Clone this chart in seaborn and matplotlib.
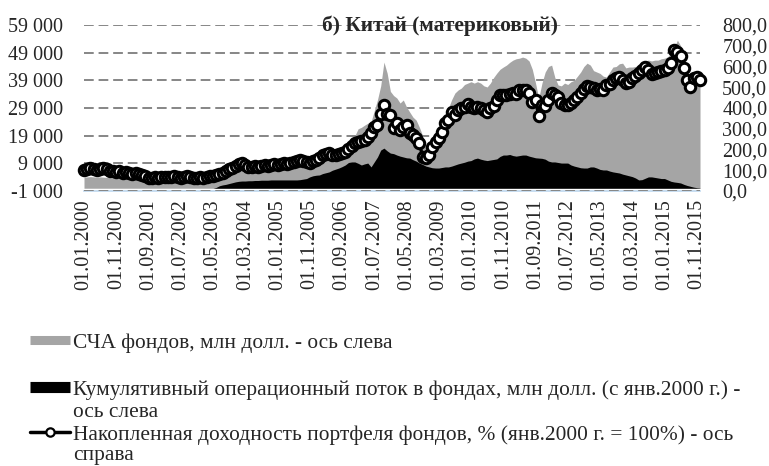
import numpy as np
import pandas as pd
import matplotlib
matplotlib.use("Agg")
import matplotlib.pyplot as plt
from matplotlib.lines import Line2D
from matplotlib.ticker import FuncFormatter
import seaborn as sns

# Monthly observations, Jan 2000 - Dec 2015
months = pd.date_range("2000-01-01", periods=192, freq="MS")

# Net asset value of funds, USD mn (left axis)
nav = [
    4000, 4100, 4200, 4100, 4000, 4100, 4000, 3900, 3800, 3700,
    3600, 3500, 3500, 3400, 3300, 3300, 3200, 3100, 3000, 3000,
    2900, 2800, 2900, 2800, 2900, 3000, 2900, 2900, 3000, 2900,
    2800, 2900, 3000, 2900, 2800, 2800, 2900, 2900, 3000, 3100,
    3200, 3500, 4000, 4600, 5200, 5900, 6200, 6600, 7000, 7200,
    7000, 7100, 7200, 7300, 7300, 7400, 7300, 7400, 7500, 7600,
    7600, 7700, 7800, 8000, 8200, 8400, 8300, 8000, 7800, 7700,
    7700, 8000, 8400, 9000, 9500, 9800, 10200, 10500, 11000, 11500,
    12000, 12500, 13800, 16000, 19000, 21500, 22000, 22800, 23500, 24000,
    28000, 32000, 37000, 45600, 41600, 35000, 33500, 32600, 30800, 31900,
    29400, 27500, 25700, 24600, 22000, 19000, 14500, 12500, 12000, 15000,
    18000, 22000, 25700, 29000, 32000, 34400, 35500, 36200, 37500, 38000,
    38500, 38000, 38500, 38000, 37000, 36600, 38000, 40000, 41600, 43000,
    43800, 44500, 45500, 46300, 46800, 47000, 47400, 47000, 46000, 43000,
    38000, 32500, 38000, 42000, 44000, 44500, 40000, 37300, 37000, 38000,
    37500, 38500, 39000, 40500, 42000, 44000, 45200, 44500, 42500, 42000,
    41500, 40500, 40200, 42000, 43800, 44000, 45000, 45200, 43500, 43800,
    43800, 44000, 44500, 45000, 46000, 46300, 46000, 46300, 46300, 46800,
    47000, 47500, 48900, 51000, 53500, 51500, 47000, 41000, 38500, 39000,
    39500, 38000,
]

# Cumulative net flow into funds since Jan 2000, USD mn (left axis)
flow = [0] * 41 + [
    300, 900, 1200, 1400, 1700, 2000, 2300, 2500, 2600, 2600,
    2700, 2700, 2800, 2800, 2900, 2900, 2900, 3000, 3000, 3000,
    3000, 3000, 3000, 3000, 3000, 3000, 3100, 3300, 3500, 4100,
    4500, 4700, 4800, 5300, 5600, 5900, 6500, 6900, 7300, 7800,
    8400, 9300, 9500, 9500, 9000, 8400, 8800, 9100, 7700, 9500,
    11300, 13800, 14500, 13500, 12700, 12500, 12000, 11600, 11300, 11000,
    10900, 10300, 9800, 9100, 8600, 8000, 7700, 7400, 7300, 7300,
    7500, 7700, 7700, 8000, 8400, 8800, 9100, 9400, 9800, 10000,
    10600, 10900, 10500, 10200, 10000, 10200, 10400, 10600, 11500, 12000,
    12000, 12200, 11800, 11600, 11800, 12000, 12000, 11600, 11300, 11000,
    10900, 10800, 10500, 9800, 9500, 9500, 9300, 9100, 9100, 9100,
    8400, 8000, 7700, 7400, 7300, 7300, 7700, 7700, 7300, 6800,
    6600, 6600, 6200, 5900, 5700, 5500, 5100, 4800, 4500, 4200,
    3700, 3000, 3100, 3600, 4100, 4100, 3900, 3700, 3500, 3500,
    3000, 2500, 2250, 2100, 1900, 1400, 1000, 700, 400, 200, 100,
]

# Cumulative portfolio return, % (Jan 2000 = 100), right axis
ret = [
    100, 106, 113, 108, 103, 108, 112, 104, 98, 94,
    90, 94, 88, 92, 86, 84, 88, 82, 78, 74,
    64, 62, 66, 64, 67, 69, 66, 68, 70, 67,
    65, 68, 70, 68, 65, 63, 66, 64, 67, 70,
    72, 76, 82, 88, 95, 104, 112, 122, 132, 136,
    124, 114, 116, 120, 118, 122, 125, 120, 124, 128,
    126, 131, 136, 132, 135, 140, 145, 149, 145, 140,
    135, 145, 149, 159, 174, 178, 183, 174, 174, 178,
    183, 188, 202, 217, 231, 236, 241, 246, 260, 280,
    308, 318, 371, 415, 371, 366, 304, 328, 294, 308,
    318, 280, 270, 255, 231, 164, 159, 174, 212, 236,
    255, 284, 328, 342, 381, 366, 390, 400, 405, 419,
    405, 400, 405, 400, 390, 381, 400, 410, 439, 463,
    463, 463, 468, 472, 468, 487, 487, 487, 472, 429,
    439, 362, 415, 410, 439, 472, 463, 453, 424, 415,
    415, 424, 439, 453, 472, 492, 506, 501, 496, 487,
    492, 487, 511, 516, 535, 545, 549, 535, 521, 525,
    545, 554, 569, 583, 598, 583, 564, 569, 574, 578,
    583, 593, 617, 680, 670, 651, 593, 535, 501, 545,
    549, 535,
]

tick_step = 10
tick_labels = [d.strftime("%d.%m.%Y") for d in months[::tick_step]]

title = "б) Китай (материковый)"
# Legend labels: first line next to the key, wrapped remainder below it
label_nav = ("СЧА фондов, млн долл. - ось слева", None)
label_flow = ("Кумулятивный операционный поток в фондах, млн долл. (с янв.2000 г.) -", "ось слева")
label_ret = ("Накопленная доходность портфеля фондов, % (янв.2000 г. = 100%) - ось", "справа")

sns.set_theme(style="white")
plt.rcParams["font.family"] = ["Liberation Serif", "DejaVu Serif"]
FS = 14.5
FS_LEG = 15.4

W, H = 769, 466
fig = plt.figure(figsize=(W / 100, H / 100), dpi=100)
ax = fig.add_axes([84 / W, 1 - 191 / H, (700 - 84) / W, (191 - 25) / H])

idx = np.arange(len(months))
ax.fill_between(idx, 0, nav, color="#a5a5a5", lw=0, zorder=1)
ax.fill_between(idx, 0, flow, color="black", lw=0, zorder=2)

ax.set_xlim(0, len(months) - 1)
ax.set_ylim(-1000, 59000)
ax.set_yticks(np.arange(-1000, 59001, 10000))
ax.yaxis.set_major_formatter(FuncFormatter(lambda v, p: f"{v:,.0f}".replace(",", " ")))
ax.set_axisbelow(True)
ax.grid(axis="y", color="#868686", lw=1.4, ls=(0, (5, 2.5)))
ax.grid(axis="x", visible=False)
for s in ["left", "right", "top"]:
    ax.spines[s].set_visible(False)
ax.spines["bottom"].set_color("#bdd7ee")
ax.spines["bottom"].set_linewidth(1.2)
ax.spines["bottom"].set_zorder(0.3)

ax.set_xticks(idx[::tick_step])
ax.set_xticklabels(tick_labels, rotation=90, fontsize=FS)
ax.tick_params(axis="x", length=4, width=1, color="#bdd7ee", direction="inout", pad=4)
ax.tick_params(axis="y", length=0, pad=15, labelsize=FS)

ax2 = ax.twinx()
sns.lineplot(x=idx, y=ret, ax=ax2, color="black", lw=2.4, marker="o", ms=7.5,
             mfc="white", mec="black", mew=2.2, clip_on=False, legend=False, zorder=5)
ax2.set_xlim(0, len(months) - 1)
ax2.set_ylim(0, 800)
ax2.set_yticks(np.arange(0, 801, 100))
ax2.yaxis.set_major_formatter(FuncFormatter(lambda v, p: f"{v:.1f}".replace(".", ",")))
ax2.tick_params(axis="y", length=0, pad=16, labelsize=FS)
ax2.set_ylabel("")
ax2.grid(False)
for s in ax2.spines.values():
    s.set_visible(False)

fig.text(440 / W, 1 - 26 / H, title, ha="center", va="center", fontsize=FS_LEG, fontweight="bold")

leg_kw = dict(frameon=False, loc="upper left", borderpad=0, borderaxespad=0,
              handlelength=1.85, handletextpad=0.18, fontsize=FS_LEG)
handles = [
    Line2D([], [], color="#a5a5a5", lw=6.5, solid_capstyle="butt"),
    Line2D([], [], color="black", lw=8, solid_capstyle="butt"),
    Line2D([], [], color="black", lw=2.5, marker="o", ms=6, mfc="white", mec="black", mew=1.6),
]
labels = [label_nav, label_flow, label_ret]
tops = [333, 380, 425]
cont_baselines = [None, 417, 460]
for h, (first, rest), top, base in zip(handles, labels, tops, cont_baselines):
    fig.legend(handles=[h], labels=[first], bbox_to_anchor=(30 / W, 1 - top / H), **leg_kw)
    if rest:
        fig.text(73 / W, 1 - base / H, rest, ha="left", va="baseline", fontsize=FS_LEG)

fig.savefig("out.png", dpi=100)
